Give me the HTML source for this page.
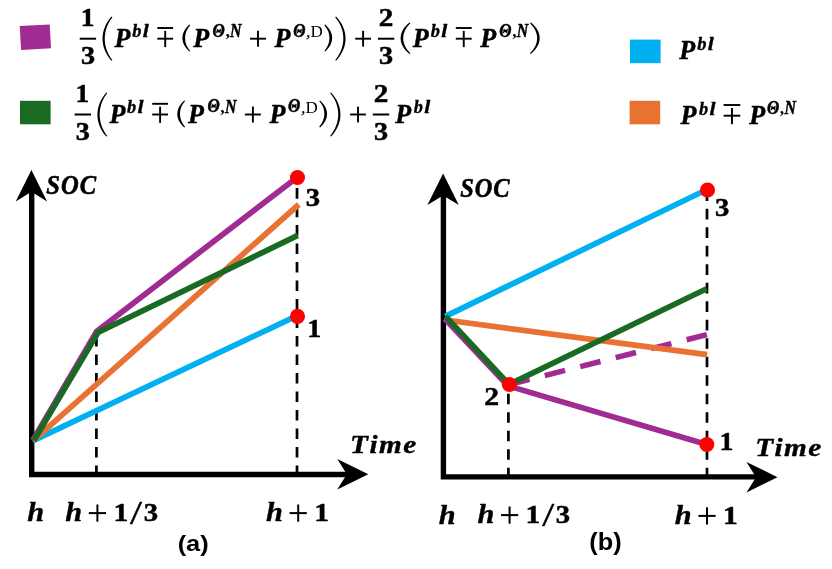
<!DOCTYPE html>
<html><head><meta charset="utf-8"><title>SOC trajectories</title>
<style>
html,body{margin:0;padding:0;background:#fff;}
body{width:832px;height:569px;overflow:hidden;font-family:"Liberation Serif",serif;}
svg{display:block;}
svg text{font-kerning:none;white-space:pre;}
svg{will-change:transform;}
</style></head><body>
<svg width="832" height="569" viewBox="0 0 832 569">
<rect width="832" height="569" fill="#fff"/>
<polygon points="19.7,26.1 49.7,24.4 51.0,48.2 21.1,49.9" fill="#A02B93"/>
<text transform="matrix(1.1152 0 0 1 80.65 25.84)" font-family='"Liberation Serif", serif' font-weight="bold" font-style="normal" font-size="24.60" stroke="#000" stroke-width="0.5" stroke-linejoin="round" fill="#000">1</text>
<rect x="79.70" y="37.70" width="16.40" height="2.00" fill="#000"/>
<text transform="matrix(1.1486 0 0 1 80.89 63.80)" font-family='"Liberation Serif", serif' font-weight="bold" font-style="normal" font-size="24.60" stroke="#000" stroke-width="0.5" stroke-linejoin="round" fill="#000">3</text>
<path d="M111.50,16.60 C99.60,29.86 99.60,47.54 111.50,60.80 L112.40,60.10 C102.27,47.54 102.27,29.86 112.40,17.30 Z" fill="#000"/>
<text transform="matrix(0.9799 0 0 1 114.51 46.70)" font-family='"Liberation Serif", serif' font-weight="bold" font-style="italic" font-size="26.60" stroke="#000" stroke-width="0.45" stroke-linejoin="round" fill="#000">P</text>
<text transform="matrix(0.9881 0 0 1 132.16 37.30)" font-family='"Liberation Serif", serif' font-weight="bold" font-style="italic" font-size="18.60" stroke="#000" stroke-width="0.35" stroke-linejoin="round" fill="#000">b</text>
<text transform="matrix(1.1624 0 0 1 142.72 37.30)" font-family='"Liberation Serif", serif' font-weight="bold" font-style="italic" font-size="18.60" stroke="#000" stroke-width="0.35" stroke-linejoin="round" fill="#000">l</text>
<rect x="157.30" y="27.05" width="15.80" height="1.90" fill="#000"/>
<rect x="157.30" y="37.75" width="15.80" height="1.90" fill="#000"/>
<rect x="164.25" y="30.90" width="1.90" height="16.20" fill="#000"/>
<path d="M189.30,24.60 C180.07,32.70 180.07,43.50 189.30,51.60 L190.20,50.90 C183.40,43.50 183.40,32.70 190.20,25.30 Z" fill="#000"/>
<text transform="matrix(0.9799 0 0 1 193.21 46.70)" font-family='"Liberation Serif", serif' font-weight="bold" font-style="italic" font-size="26.60" stroke="#000" stroke-width="0.45" stroke-linejoin="round" fill="#000">P</text>
<text transform="matrix(0.8913 0 0 1 212.52 36.52)" font-family='"Liberation Serif", serif' font-weight="bold" font-style="italic" font-size="18.01" stroke="#000" stroke-width="0.5" stroke-linejoin="round" fill="#000">Θ</text>
<text transform="matrix(1.0000 0 0 1 226.18 37.10)" font-family='"Liberation Serif", serif' font-weight="bold" font-style="italic" font-size="17.67" fill="#000">,</text>
<text transform="matrix(0.8632 0 0 1 230.05 37.10)" font-family='"Liberation Serif", serif' font-weight="bold" font-style="italic" font-size="18.41" stroke="#000" stroke-width="0.5" stroke-linejoin="round" fill="#000">N</text>
<rect x="250.00" y="37.75" width="16.00" height="1.90" fill="#000"/>
<rect x="257.05" y="30.70" width="1.90" height="16.00" fill="#000"/>
<text transform="matrix(0.9799 0 0 1 274.51 46.70)" font-family='"Liberation Serif", serif' font-weight="bold" font-style="italic" font-size="26.60" stroke="#000" stroke-width="0.45" stroke-linejoin="round" fill="#000">P</text>
<text transform="matrix(0.8913 0 0 1 293.22 36.52)" font-family='"Liberation Serif", serif' font-weight="bold" font-style="italic" font-size="18.01" stroke="#000" stroke-width="0.5" stroke-linejoin="round" fill="#000">Θ</text>
<text transform="matrix(1.0000 0 0 1 306.11 37.10)" font-family='"Liberation Serif", serif' font-weight="normal" font-style="italic" font-size="17.67" stroke="#000" stroke-width="0.2" stroke-linejoin="round" fill="#000">,</text>
<text transform="matrix(0.9615 0 0 1 310.51 37.10)" font-family='"Liberation Serif", serif' font-weight="normal" font-style="normal" font-size="17.67" fill="#000">D</text>
<path d="M325.20,24.60 C334.57,32.70 334.57,43.50 325.20,51.60 L324.30,50.90 C331.23,43.50 331.23,32.70 324.30,25.30 Z" fill="#000"/>
<path d="M336.10,16.60 C348.80,29.86 348.80,47.54 336.10,60.80 L335.20,60.10 C346.13,47.54 346.13,29.86 335.20,17.30 Z" fill="#000"/>
<rect x="355.20" y="37.75" width="15.80" height="1.90" fill="#000"/>
<rect x="362.15" y="30.80" width="1.90" height="15.80" fill="#000"/>
<text transform="matrix(1.1851 0 0 1 378.83 25.89)" font-family='"Liberation Serif", serif' font-weight="bold" font-style="normal" font-size="24.60" stroke="#000" stroke-width="0.5" stroke-linejoin="round" fill="#000">2</text>
<rect x="377.90" y="37.70" width="16.40" height="2.00" fill="#000"/>
<text transform="matrix(1.1486 0 0 1 379.09 63.80)" font-family='"Liberation Serif", serif' font-weight="bold" font-style="normal" font-size="24.60" stroke="#000" stroke-width="0.5" stroke-linejoin="round" fill="#000">3</text>
<path d="M409.50,22.60 C397.73,32.02 397.73,44.58 409.50,54.00 L410.40,53.30 C400.80,44.58 400.80,32.02 410.40,23.30 Z" fill="#000"/>
<text transform="matrix(0.9799 0 0 1 412.71 46.70)" font-family='"Liberation Serif", serif' font-weight="bold" font-style="italic" font-size="26.60" stroke="#000" stroke-width="0.45" stroke-linejoin="round" fill="#000">P</text>
<text transform="matrix(0.9881 0 0 1 430.76 37.30)" font-family='"Liberation Serif", serif' font-weight="bold" font-style="italic" font-size="18.60" stroke="#000" stroke-width="0.35" stroke-linejoin="round" fill="#000">b</text>
<text transform="matrix(1.1624 0 0 1 441.32 37.30)" font-family='"Liberation Serif", serif' font-weight="bold" font-style="italic" font-size="18.60" stroke="#000" stroke-width="0.35" stroke-linejoin="round" fill="#000">l</text>
<rect x="455.80" y="27.05" width="15.90" height="1.90" fill="#000"/>
<rect x="455.80" y="37.75" width="15.90" height="1.90" fill="#000"/>
<rect x="462.80" y="30.90" width="1.90" height="16.20" fill="#000"/>
<text transform="matrix(0.9799 0 0 1 480.21 46.70)" font-family='"Liberation Serif", serif' font-weight="bold" font-style="italic" font-size="26.60" stroke="#000" stroke-width="0.45" stroke-linejoin="round" fill="#000">P</text>
<text transform="matrix(0.8913 0 0 1 499.22 36.52)" font-family='"Liberation Serif", serif' font-weight="bold" font-style="italic" font-size="18.01" stroke="#000" stroke-width="0.5" stroke-linejoin="round" fill="#000">Θ</text>
<text transform="matrix(1.0000 0 0 1 512.88 37.10)" font-family='"Liberation Serif", serif' font-weight="bold" font-style="italic" font-size="17.67" fill="#000">,</text>
<text transform="matrix(0.8632 0 0 1 516.75 37.10)" font-family='"Liberation Serif", serif' font-weight="bold" font-style="italic" font-size="18.41" stroke="#000" stroke-width="0.5" stroke-linejoin="round" fill="#000">N</text>
<path d="M530.90,22.60 C542.67,32.02 542.67,44.58 530.90,54.00 L530.00,53.30 C539.60,44.58 539.60,32.02 530.00,23.30 Z" fill="#000"/>
<rect x="20.00" y="100.80" width="30.60" height="23.50" fill="#196B24"/>
<text transform="matrix(1.1152 0 0 1 75.55 101.64)" font-family='"Liberation Serif", serif' font-weight="bold" font-style="normal" font-size="24.60" stroke="#000" stroke-width="0.5" stroke-linejoin="round" fill="#000">1</text>
<rect x="74.60" y="113.50" width="16.40" height="2.00" fill="#000"/>
<text transform="matrix(1.1486 0 0 1 75.79 139.60)" font-family='"Liberation Serif", serif' font-weight="bold" font-style="normal" font-size="24.60" stroke="#000" stroke-width="0.5" stroke-linejoin="round" fill="#000">3</text>
<path d="M106.40,92.40 C94.50,105.66 94.50,123.34 106.40,136.60 L107.30,135.90 C97.17,123.34 97.17,105.66 107.30,93.10 Z" fill="#000"/>
<text transform="matrix(0.9799 0 0 1 109.41 122.50)" font-family='"Liberation Serif", serif' font-weight="bold" font-style="italic" font-size="26.60" stroke="#000" stroke-width="0.45" stroke-linejoin="round" fill="#000">P</text>
<text transform="matrix(0.9881 0 0 1 127.06 113.10)" font-family='"Liberation Serif", serif' font-weight="bold" font-style="italic" font-size="18.60" stroke="#000" stroke-width="0.35" stroke-linejoin="round" fill="#000">b</text>
<text transform="matrix(1.1624 0 0 1 137.62 113.10)" font-family='"Liberation Serif", serif' font-weight="bold" font-style="italic" font-size="18.60" stroke="#000" stroke-width="0.35" stroke-linejoin="round" fill="#000">l</text>
<rect x="152.20" y="102.85" width="15.80" height="1.90" fill="#000"/>
<rect x="152.20" y="113.55" width="15.80" height="1.90" fill="#000"/>
<rect x="159.15" y="106.70" width="1.90" height="16.20" fill="#000"/>
<path d="M184.20,100.40 C174.97,108.50 174.97,119.30 184.20,127.40 L185.10,126.70 C178.30,119.30 178.30,108.50 185.10,101.10 Z" fill="#000"/>
<text transform="matrix(0.9799 0 0 1 188.11 122.50)" font-family='"Liberation Serif", serif' font-weight="bold" font-style="italic" font-size="26.60" stroke="#000" stroke-width="0.45" stroke-linejoin="round" fill="#000">P</text>
<text transform="matrix(0.8913 0 0 1 207.42 112.32)" font-family='"Liberation Serif", serif' font-weight="bold" font-style="italic" font-size="18.01" stroke="#000" stroke-width="0.5" stroke-linejoin="round" fill="#000">Θ</text>
<text transform="matrix(1.0000 0 0 1 221.08 112.90)" font-family='"Liberation Serif", serif' font-weight="bold" font-style="italic" font-size="17.67" fill="#000">,</text>
<text transform="matrix(0.8632 0 0 1 224.95 112.90)" font-family='"Liberation Serif", serif' font-weight="bold" font-style="italic" font-size="18.41" stroke="#000" stroke-width="0.5" stroke-linejoin="round" fill="#000">N</text>
<rect x="244.90" y="113.55" width="16.00" height="1.90" fill="#000"/>
<rect x="251.95" y="106.50" width="1.90" height="16.00" fill="#000"/>
<text transform="matrix(0.9799 0 0 1 269.41 122.50)" font-family='"Liberation Serif", serif' font-weight="bold" font-style="italic" font-size="26.60" stroke="#000" stroke-width="0.45" stroke-linejoin="round" fill="#000">P</text>
<text transform="matrix(0.8913 0 0 1 288.12 112.32)" font-family='"Liberation Serif", serif' font-weight="bold" font-style="italic" font-size="18.01" stroke="#000" stroke-width="0.5" stroke-linejoin="round" fill="#000">Θ</text>
<text transform="matrix(1.0000 0 0 1 301.01 112.90)" font-family='"Liberation Serif", serif' font-weight="normal" font-style="italic" font-size="17.67" stroke="#000" stroke-width="0.2" stroke-linejoin="round" fill="#000">,</text>
<text transform="matrix(0.9615 0 0 1 305.41 112.90)" font-family='"Liberation Serif", serif' font-weight="normal" font-style="normal" font-size="17.67" fill="#000">D</text>
<path d="M320.10,100.40 C329.47,108.50 329.47,119.30 320.10,127.40 L319.20,126.70 C326.13,119.30 326.13,108.50 319.20,101.10 Z" fill="#000"/>
<path d="M331.00,92.40 C343.70,105.66 343.70,123.34 331.00,136.60 L330.10,135.90 C341.03,123.34 341.03,105.66 330.10,93.10 Z" fill="#000"/>
<rect x="350.10" y="113.55" width="15.80" height="1.90" fill="#000"/>
<rect x="357.05" y="106.60" width="1.90" height="15.80" fill="#000"/>
<text transform="matrix(1.1851 0 0 1 373.73 101.69)" font-family='"Liberation Serif", serif' font-weight="bold" font-style="normal" font-size="24.60" stroke="#000" stroke-width="0.5" stroke-linejoin="round" fill="#000">2</text>
<rect x="372.80" y="113.50" width="16.40" height="2.00" fill="#000"/>
<text transform="matrix(1.1486 0 0 1 373.99 139.60)" font-family='"Liberation Serif", serif' font-weight="bold" font-style="normal" font-size="24.60" stroke="#000" stroke-width="0.5" stroke-linejoin="round" fill="#000">3</text>
<text transform="matrix(0.9799 0 0 1 395.21 122.50)" font-family='"Liberation Serif", serif' font-weight="bold" font-style="italic" font-size="26.60" stroke="#000" stroke-width="0.45" stroke-linejoin="round" fill="#000">P</text>
<text transform="matrix(0.9881 0 0 1 413.76 113.10)" font-family='"Liberation Serif", serif' font-weight="bold" font-style="italic" font-size="18.60" stroke="#000" stroke-width="0.35" stroke-linejoin="round" fill="#000">b</text>
<text transform="matrix(1.1624 0 0 1 424.32 113.10)" font-family='"Liberation Serif", serif' font-weight="bold" font-style="italic" font-size="18.60" stroke="#000" stroke-width="0.35" stroke-linejoin="round" fill="#000">l</text>
<rect x="630.00" y="39.60" width="30.60" height="23.60" fill="#00B0F0"/>
<rect x="629.60" y="100.80" width="30.60" height="23.50" fill="#E97132"/>
<text transform="matrix(0.9799 0 0 1 679.21 59.10)" font-family='"Liberation Serif", serif' font-weight="bold" font-style="italic" font-size="26.60" stroke="#000" stroke-width="0.45" stroke-linejoin="round" fill="#000">P</text>
<text transform="matrix(0.9881 0 0 1 697.26 50.00)" font-family='"Liberation Serif", serif' font-weight="bold" font-style="italic" font-size="18.60" stroke="#000" stroke-width="0.35" stroke-linejoin="round" fill="#000">b</text>
<text transform="matrix(1.1624 0 0 1 707.82 50.00)" font-family='"Liberation Serif", serif' font-weight="bold" font-style="italic" font-size="18.60" stroke="#000" stroke-width="0.35" stroke-linejoin="round" fill="#000">l</text>
<text transform="matrix(0.9799 0 0 1 680.51 123.60)" font-family='"Liberation Serif", serif' font-weight="bold" font-style="italic" font-size="26.60" stroke="#000" stroke-width="0.45" stroke-linejoin="round" fill="#000">P</text>
<text transform="matrix(0.9881 0 0 1 698.96 114.50)" font-family='"Liberation Serif", serif' font-weight="bold" font-style="italic" font-size="18.60" stroke="#000" stroke-width="0.35" stroke-linejoin="round" fill="#000">b</text>
<text transform="matrix(1.1624 0 0 1 709.52 114.50)" font-family='"Liberation Serif", serif' font-weight="bold" font-style="italic" font-size="18.60" stroke="#000" stroke-width="0.35" stroke-linejoin="round" fill="#000">l</text>
<rect x="723.60" y="104.05" width="16.70" height="1.90" fill="#000"/>
<rect x="723.60" y="114.75" width="16.70" height="1.90" fill="#000"/>
<rect x="731.00" y="108.00" width="1.90" height="16.20" fill="#000"/>
<text transform="matrix(0.9799 0 0 1 749.21 123.60)" font-family='"Liberation Serif", serif' font-weight="bold" font-style="italic" font-size="26.60" stroke="#000" stroke-width="0.45" stroke-linejoin="round" fill="#000">P</text>
<text transform="matrix(0.8913 0 0 1 766.92 113.72)" font-family='"Liberation Serif", serif' font-weight="bold" font-style="italic" font-size="18.01" stroke="#000" stroke-width="0.5" stroke-linejoin="round" fill="#000">Θ</text>
<text transform="matrix(1.0000 0 0 1 780.58 114.30)" font-family='"Liberation Serif", serif' font-weight="bold" font-style="italic" font-size="17.67" fill="#000">,</text>
<text transform="matrix(0.8632 0 0 1 784.45 114.30)" font-family='"Liberation Serif", serif' font-weight="bold" font-style="italic" font-size="18.41" stroke="#000" stroke-width="0.5" stroke-linejoin="round" fill="#000">N</text>
<polyline points="31.70,190.00 31.70,474.50 349.00,474.50" fill="none" stroke="#000" stroke-width="5.4" stroke-linecap="butt" stroke-linejoin="miter"/>
<polygon points="31.40,170.00 47.10,201.50 31.40,191.80 15.70,201.50" fill="#000"/>
<polygon points="368.30,474.30 337.30,459.00 346.80,474.30 337.30,489.60" fill="#000"/>
<polyline points="96.40,476.00 96.40,334.00" fill="none" stroke="#000" stroke-width="2.7" stroke-linecap="butt" stroke-linejoin="miter" stroke-dasharray="10.57 7.92"/>
<polyline points="297.00,476.00 297.00,180.00" fill="none" stroke="#000" stroke-width="2.7" stroke-linecap="butt" stroke-linejoin="miter" stroke-dasharray="10.57 7.92"/>
<polyline points="32.70,440.90 297.30,315.60" fill="none" stroke="#00B0F0" stroke-width="5.7" stroke-linecap="butt" stroke-linejoin="miter"/>
<polyline points="32.90,440.90 298.80,204.50" fill="none" stroke="#E97132" stroke-width="5.7" stroke-linecap="butt" stroke-linejoin="miter"/>
<polyline points="32.90,440.20 96.60,331.40 297.00,177.40" fill="none" stroke="#A02B93" stroke-width="5.7" stroke-linecap="butt" stroke-linejoin="miter"/>
<polyline points="33.90,440.50 98.00,332.50 297.80,235.40" fill="none" stroke="#196B24" stroke-width="5.7" stroke-linecap="butt" stroke-linejoin="miter"/>
<circle cx="297.50" cy="177.50" r="7.55" fill="#f00"/>
<circle cx="297.50" cy="316.40" r="7.55" fill="#f00"/>
<text transform="matrix(1.1444 0 0 1 305.77 205.90)" font-family='"Liberation Serif", serif' font-weight="bold" font-style="normal" font-size="25.10" stroke="#000" stroke-width="0.5" stroke-linejoin="round" fill="#000">3</text>
<text transform="matrix(1.1146 0 0 1 307.21 337.00)" font-family='"Liberation Serif", serif' font-weight="bold" font-style="normal" font-size="25.10" stroke="#000" stroke-width="0.5" stroke-linejoin="round" fill="#000">1</text>
<text transform="matrix(0.8820 0 0 1 46.36 193.93)" font-family='"Liberation Serif", serif' font-weight="bold" font-style="italic" font-size="27.83" letter-spacing="1.113" stroke="#000" stroke-width="0.6" stroke-linejoin="round" fill="#000">SOC</text>
<text transform="matrix(1.1619 0 0 1 350.07 453.05)" font-family='"Liberation Serif", serif' font-weight="bold" font-style="italic" font-size="25.16" letter-spacing="1.258" stroke="#000" stroke-width="0.4" stroke-linejoin="round" fill="#000">Time</text>
<text transform="matrix(1.1177 0 0 1 27.21 520.60)" font-family='"Liberation Serif", serif' font-weight="bold" font-style="italic" font-size="27.20" stroke="#000" stroke-width="0.35" stroke-linejoin="round" fill="#000">h</text>
<text transform="matrix(1.1177 0 0 1 65.21 520.80)" font-family='"Liberation Serif", serif' font-weight="bold" font-style="italic" font-size="27.20" stroke="#000" stroke-width="0.35" stroke-linejoin="round" fill="#000">h</text>
<rect x="88.80" y="512.10" width="17.20" height="2.00" fill="#000"/>
<rect x="96.40" y="504.50" width="2.00" height="17.20" fill="#000"/>
<text transform="matrix(1.1938 0 0 1 113.38 520.80)" font-family='"Liberation Serif", serif' font-weight="bold" font-style="normal" font-size="24.80" stroke="#000" stroke-width="0.5" stroke-linejoin="round" fill="#000">1</text>
<text transform="matrix(1.2841 0 0 1 130.00 523.97)" font-family='"Liberation Serif", serif' font-weight="normal" font-style="normal" font-size="33.64" stroke="#000" stroke-width="0.4" stroke-linejoin="round" fill="#000">/</text>
<text transform="matrix(1.1582 0 0 1 143.67 520.80)" font-family='"Liberation Serif", serif' font-weight="bold" font-style="normal" font-size="24.80" stroke="#000" stroke-width="0.5" stroke-linejoin="round" fill="#000">3</text>
<text transform="matrix(1.1177 0 0 1 266.01 520.80)" font-family='"Liberation Serif", serif' font-weight="bold" font-style="italic" font-size="27.20" stroke="#000" stroke-width="0.35" stroke-linejoin="round" fill="#000">h</text>
<rect x="289.60" y="512.10" width="17.20" height="2.00" fill="#000"/>
<rect x="297.20" y="504.50" width="2.00" height="17.20" fill="#000"/>
<text transform="matrix(1.1938 0 0 1 314.18 520.80)" font-family='"Liberation Serif", serif' font-weight="bold" font-style="normal" font-size="24.80" stroke="#000" stroke-width="0.5" stroke-linejoin="round" fill="#000">1</text>
<text transform="matrix(1.1059 0 0 1 177.64 551.04)" font-family='"Liberation Sans", sans-serif' font-weight="bold" font-style="normal" font-size="22.96" fill="#000">(a)</text>
<polyline points="443.40,194.00 443.40,476.90 758.00,476.90" fill="none" stroke="#000" stroke-width="5.4" stroke-linecap="butt" stroke-linejoin="miter"/>
<polygon points="443.10,173.60 458.80,205.10 443.10,195.40 427.40,205.10" fill="#000"/>
<polygon points="777.50,477.20 746.50,461.90 756.00,477.20 746.50,492.50" fill="#000"/>
<polyline points="508.40,478.30 508.40,388.00" fill="none" stroke="#000" stroke-width="2.7" stroke-linecap="butt" stroke-linejoin="miter" stroke-dasharray="10.57 7.92"/>
<polyline points="707.00,478.30 707.00,193.00" fill="none" stroke="#000" stroke-width="2.7" stroke-linecap="butt" stroke-linejoin="miter" stroke-dasharray="10.57 7.92"/>
<polyline points="445.30,316.40 707.50,189.20" fill="none" stroke="#00B0F0" stroke-width="5.7" stroke-linecap="butt" stroke-linejoin="miter"/>
<polyline points="509.30,384.50 707.00,334.60" fill="none" stroke="#A02B93" stroke-width="5.5" stroke-linecap="butt" stroke-linejoin="miter" stroke-dasharray="20.9 15.68"/>
<polyline points="445.50,320.00 707.10,354.60" fill="none" stroke="#E97132" stroke-width="5.7" stroke-linecap="butt" stroke-linejoin="miter"/>
<polyline points="444.60,318.50 508.10,385.90 706.80,444.50" fill="none" stroke="#A02B93" stroke-width="5.7" stroke-linecap="butt" stroke-linejoin="miter"/>
<polyline points="445.60,316.40 509.00,384.40 706.60,288.80" fill="none" stroke="#196B24" stroke-width="5.7" stroke-linecap="butt" stroke-linejoin="miter"/>
<circle cx="707.50" cy="190.00" r="7.55" fill="#f00"/>
<circle cx="509.30" cy="384.50" r="7.55" fill="#f00"/>
<circle cx="706.80" cy="444.50" r="7.55" fill="#f00"/>
<text transform="matrix(1.1444 0 0 1 715.07 216.20)" font-family='"Liberation Serif", serif' font-weight="bold" font-style="normal" font-size="25.10" stroke="#000" stroke-width="0.5" stroke-linejoin="round" fill="#000">3</text>
<text transform="matrix(1.1807 0 0 1 484.31 404.70)" font-family='"Liberation Serif", serif' font-weight="bold" font-style="normal" font-size="25.10" stroke="#000" stroke-width="0.5" stroke-linejoin="round" fill="#000">2</text>
<text transform="matrix(1.1146 0 0 1 719.61 450.00)" font-family='"Liberation Serif", serif' font-weight="bold" font-style="normal" font-size="25.10" stroke="#000" stroke-width="0.5" stroke-linejoin="round" fill="#000">1</text>
<text transform="matrix(0.8720 0 0 1 460.16 196.53)" font-family='"Liberation Serif", serif' font-weight="bold" font-style="italic" font-size="27.98" letter-spacing="1.119" stroke="#000" stroke-width="0.6" stroke-linejoin="round" fill="#000">SOC</text>
<text transform="matrix(1.1704 0 0 1 755.17 455.76)" font-family='"Liberation Serif", serif' font-weight="bold" font-style="italic" font-size="25.01" letter-spacing="1.251" stroke="#000" stroke-width="0.4" stroke-linejoin="round" fill="#000">Time</text>
<text transform="matrix(1.1177 0 0 1 438.81 523.80)" font-family='"Liberation Serif", serif' font-weight="bold" font-style="italic" font-size="27.20" stroke="#000" stroke-width="0.35" stroke-linejoin="round" fill="#000">h</text>
<text transform="matrix(1.1177 0 0 1 477.41 522.80)" font-family='"Liberation Serif", serif' font-weight="bold" font-style="italic" font-size="27.20" stroke="#000" stroke-width="0.35" stroke-linejoin="round" fill="#000">h</text>
<rect x="501.00" y="514.10" width="17.20" height="2.00" fill="#000"/>
<rect x="508.60" y="506.50" width="2.00" height="17.20" fill="#000"/>
<text transform="matrix(1.1938 0 0 1 525.58 522.80)" font-family='"Liberation Serif", serif' font-weight="bold" font-style="normal" font-size="24.80" stroke="#000" stroke-width="0.5" stroke-linejoin="round" fill="#000">1</text>
<text transform="matrix(1.2841 0 0 1 542.20 525.97)" font-family='"Liberation Serif", serif' font-weight="normal" font-style="normal" font-size="33.64" stroke="#000" stroke-width="0.4" stroke-linejoin="round" fill="#000">/</text>
<text transform="matrix(1.1582 0 0 1 555.87 522.80)" font-family='"Liberation Serif", serif' font-weight="bold" font-style="normal" font-size="24.80" stroke="#000" stroke-width="0.5" stroke-linejoin="round" fill="#000">3</text>
<text transform="matrix(1.1177 0 0 1 674.81 523.60)" font-family='"Liberation Serif", serif' font-weight="bold" font-style="italic" font-size="27.20" stroke="#000" stroke-width="0.35" stroke-linejoin="round" fill="#000">h</text>
<rect x="698.40" y="514.90" width="17.20" height="2.00" fill="#000"/>
<rect x="706.00" y="507.30" width="2.00" height="17.20" fill="#000"/>
<text transform="matrix(1.1938 0 0 1 722.98 523.60)" font-family='"Liberation Serif", serif' font-weight="bold" font-style="normal" font-size="24.80" stroke="#000" stroke-width="0.5" stroke-linejoin="round" fill="#000">1</text>
<text transform="matrix(1.0824 0 0 1 589.34 550.35)" font-family='"Liberation Sans", sans-serif' font-weight="bold" font-style="normal" font-size="23.39" fill="#000">(b)</text>
</svg>
</body></html>
